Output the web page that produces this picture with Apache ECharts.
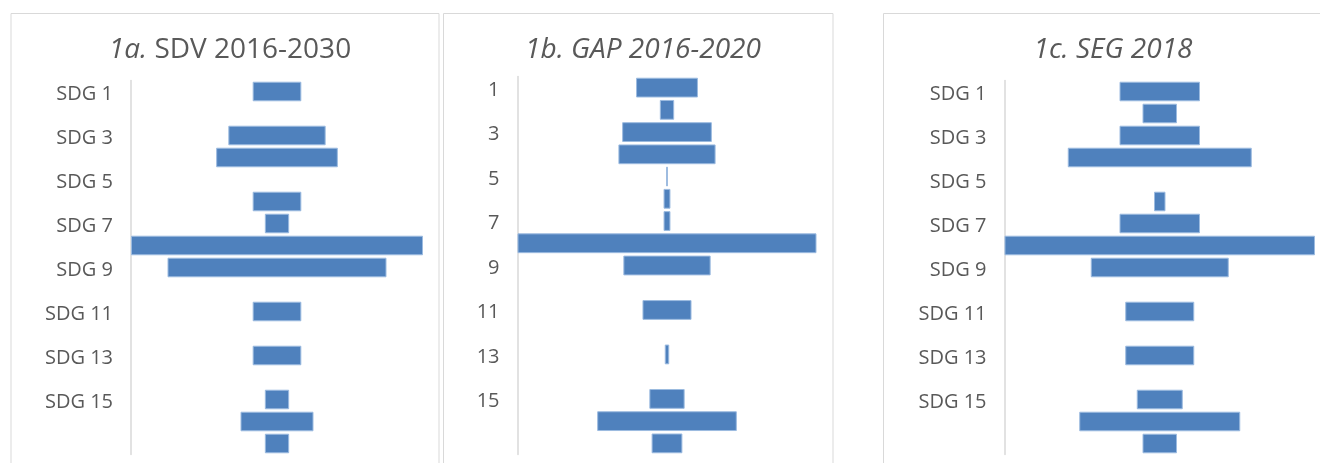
<!DOCTYPE html>
<html>
<head>
<meta charset="utf-8">
<script src="https://cdn.jsdelivr.net/npm/echarts@6/dist/echarts.min.js"></script>
<style>
  html, body { margin: 0; padding: 0; background: #fff; }
  #chart { width: 1320px; height: 463px; }
</style>
</head>
<body>
<div id="chart"></div>
<script>
// categories
const sdgNames = ['SDG 1', 'SDG 2', 'SDG 3', 'SDG 4', 'SDG 5', 'SDG 6', 'SDG 7', 'SDG 8', 'SDG 9',
  'SDG 10', 'SDG 11', 'SDG 12', 'SDG 13', 'SDG 14', 'SDG 15', 'SDG 16', 'SDG 17'];
const gapNames = ['1', '2', '3', '4', '5', '6', '7', '8', '9', '10', '11', '12', '13', '14', '15', '16', '17'];

// values
const sdvValues = [2, 0, 4, 5, 0, 2, 1, 12, 9, 0, 2, 0, 2, 0, 1, 3, 1];
const gapValues = [20.7, 4.8, 30, 32.5, 0.6, 2.3, 2.3, 100, 29.2, 0, 16.4, 0, 1.5, 0, 11.8, 46.7, 10.3];
const segValues = [7, 3, 7, 16, 0, 1, 7, 27, 12, 0, 6, 0, 6, 0, 4, 14, 3];

const sdvMax = 12;
const gapMax = 100;
const segMax = 27;

const chart = echarts.init(document.getElementById('chart'));

const FONT = '"Open Sans", sans-serif';
const GREY = '#595959';

// transparent offset so bars are centred
function offsets (values, max) {
  return values.map(v => (max - v) / 2);
}
function visible (values) {
  return values.map(v => ({
    value: v,
    itemStyle: { borderWidth: v > 0 ? 1 : 0 }
  }));
}

const grids = [
  { left: 131, top: 80.5, width: 292, height: 374 },
  { left: 517.5, top: 76.5, width: 299, height: 378 },
  { left: 1004.5, top: 80.5, width: 310.5, height: 374 }
];

function xAxis (idx, max) {
  return {
    type: 'value', gridIndex: idx, min: 0, max: max,
    show: false
  };
}
function yAxis (idx, names) {
  return {
    type: 'category', gridIndex: idx, data: names, inverse: true,
    axisLine: { show: true, lineStyle: { color: '#d9d9d9', width: 1.5 } },
    axisTick: { show: false },
    splitLine: { show: false },
    axisLabel: {
      // odd SDGs only, the last one is left out like in the source
      interval: (i) => i % 2 === 0 && i < 16,
      margin: 18,
      formatter: '{a|{value}}',
      rich: {
        a: { color: GREY, fontSize: 20, fontFamily: FONT, padding: [5, 0, 0, 0] }
      }
    }
  };
}
function pair (idx, values, max) {
  return [
    {
      type: 'bar', stack: 's' + idx, xAxisIndex: idx, yAxisIndex: idx,
      data: offsets(values, max), silent: true,
      itemStyle: { color: 'transparent' },
      barCategoryGap: '11%'
    },
    {
      type: 'bar', stack: 's' + idx, xAxisIndex: idx, yAxisIndex: idx,
      data: visible(values),
      itemStyle: { color: '#4f81bd', borderColor: '#9cbbe0' },
      barCategoryGap: '11%'
    }
  ];
}

const titleRich = {
  i: { fontStyle: 'italic', fontWeight: 'normal', fontSize: 28, fontFamily: FONT, color: GREY },
  n: { fontStyle: 'normal', fontWeight: 'normal', fontSize: 28, fontFamily: FONT, color: GREY }
};
const titleStyle = { fontWeight: 'normal', rich: titleRich };

const option = {
  animation: false,
  title: [
    { text: '{i|1a.}{n| SDV 2016-2030}', left: 225, top: 31, textAlign: 'center', textStyle: titleStyle },
    { text: '{i|1b. GAP 2016-2020}', left: 638, top: 31, textAlign: 'center', textStyle: titleStyle },
    { text: '{i|1c. SEG 2018}', left: 1108, top: 31, textAlign: 'center', textStyle: titleStyle }
  ],
  graphic: [
    { type: 'rect', shape: { x: 11, y: 13.5, width: 428, height: 470 }, style: { fill: 'none', stroke: '#d9d9d9', lineWidth: 1 }, silent: true },
    { type: 'rect', shape: { x: 443.5, y: 13.5, width: 389.5, height: 470 }, style: { fill: 'none', stroke: '#d9d9d9', lineWidth: 1 }, silent: true },
    { type: 'rect', shape: { x: 883.5, y: 13.5, width: 470, height: 470 }, style: { fill: 'none', stroke: '#d9d9d9', lineWidth: 1 }, silent: true }
  ],
  grid: grids,
  xAxis: [xAxis(0, sdvMax), xAxis(1, gapMax), xAxis(2, segMax)],
  yAxis: [yAxis(0, sdgNames), yAxis(1, gapNames), yAxis(2, sdgNames)],
  series: [
    ...pair(0, sdvValues, sdvMax),
    ...pair(1, gapValues, gapMax),
    ...pair(2, segValues, segMax)
  ]
};

chart.setOption(option);
</script>
</body>
</html>
